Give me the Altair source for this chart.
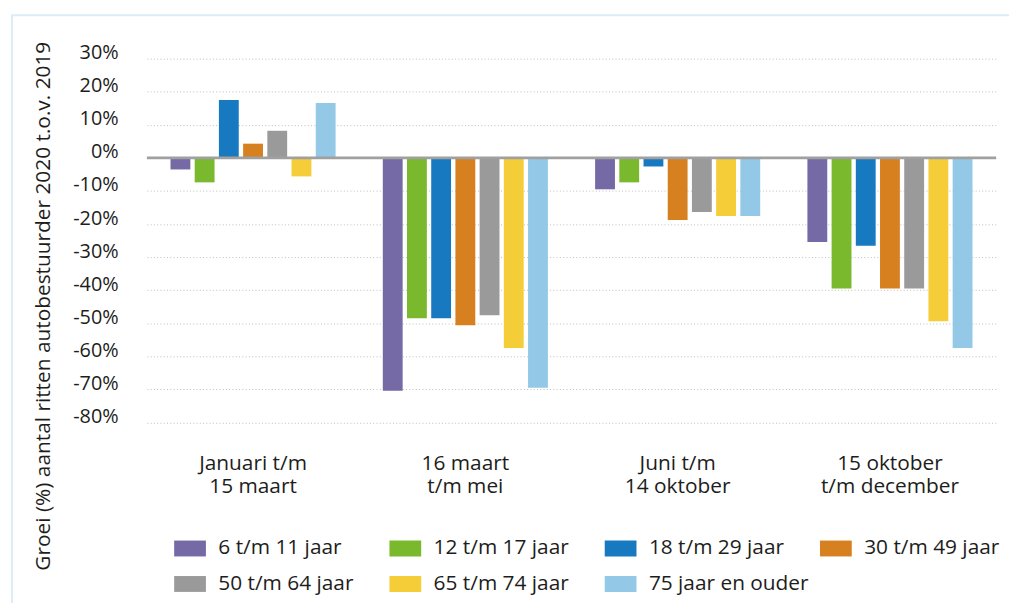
import altair as alt
import pandas as pd

periods = ["Januari t/m|15 maart", "16 maart|t/m mei", "Juni t/m|14 oktober", "15 oktober|t/m december"]
ages = ["6 t/m 11 jaar", "12 t/m 17 jaar", "18 t/m 29 jaar", "30 t/m 49 jaar",
        "50 t/m 64 jaar", "65 t/m 74 jaar", "75 jaar en ouder"]
colors = ["#756AA5", "#7AB82E", "#177AC0", "#D7801F", "#9A9A9A", "#F4CD38", "#93C9E7"]
y_ticks = [30, 20, 10, 0, -10, -20, -30, -40, -50, -60, -70, -80]

# growth (%) per age group, one value per period
g_6_11 = [-3.5, -70.4, -9.5, -25.4]
g_12_17 = [-7.4, -48.5, -7.4, -39.5]
g_18_29 = [17.5, -48.5, -2.6, -26.6]
g_30_49 = [4.3, -50.6, -18.8, -39.5]
g_50_64 = [8.2, -47.6, -16.4, -39.5]
g_65_74 = [-5.6, -57.5, -17.6, -49.4]
g_75 = [16.6, -69.5, -17.6, -57.5]

series = [g_6_11, g_12_17, g_18_29, g_30_49, g_50_64, g_65_74, g_75]
rows = []
for age, vals in zip(ages, series):
    for p, v in zip(periods, vals):
        rows.append({"periode": p, "leeftijd": age, "groei": v})
df = pd.DataFrame(rows)

FONT = "Open Sans"
TXT = "#1d1d1b"

yscale = alt.Scale(domain=[-80, 30], nice=False, zero=True)
yaxis = alt.Axis(title="Groei (%) aantal ritten autobestuurder 2020 t.o.v. 2019",
                 values=y_ticks,
                 labelExpr="datum.value + '%'",
                 ticks=False, domain=False, labelOverlap=False,
                 grid=True, gridColor="#bdbdbd", gridDash=[1, 2.3], gridWidth=1,
                 labelFontSize=20, labelFont=FONT, labelColor=TXT,
                 labelPadding=29, labelOffset=-6,
                 titleFontSize=21, titleFont=FONT, titleColor=TXT,
                 titleFontWeight="normal",
                 titleX=-104, titleY=249, titleBaseline="middle",
                 titleAngle=270, titleAlign="center")

bars = alt.Chart(df).mark_bar().encode(
    x=alt.X("periode:N", sort=periods,
            scale=alt.Scale(paddingInner=0, paddingOuter=0),
            axis=alt.Axis(title=None, labelAngle=0, ticks=False, domain=False,
                          labelExpr="split(datum.label, '|')",
                          labelFontSize=21, labelFont=FONT, labelColor=TXT,
                          labelPadding=30, labelLineHeight=23.5, labelBaseline="top")),
    xOffset=alt.XOffset("leeftijd:N", sort=ages,
                        scale=alt.Scale(paddingInner=0.18, paddingOuter=0.975)),
    y=alt.Y("groei:Q", scale=yscale, axis=yaxis),
    color=alt.Color("leeftijd:N", sort=ages,
                    scale=alt.Scale(domain=ages, range=colors),
                    legend=alt.Legend(title=None, orient="none", legendX=25, legendY=483,
                                      direction="horizontal",
                                      columns=4, gridAlign="all", columnPadding=8,
                                      rowPadding=14, padding=0,
                                      symbolType="M-1,-1H3V1H-1Z", symbolSize=256,
                                      symbolStrokeWidth=0, symbolOpacity=1,
                                      labelFontSize=21, labelFont=FONT, labelColor=TXT,
                                      labelOffset=26, labelLimit=300)),
)

zero = alt.Chart(pd.DataFrame({"y": [0]})).mark_rule(color="#a0a0a0", strokeWidth=3).encode(
    y=alt.Y("y:Q", scale=yscale, axis=yaxis)
)

frame = alt.Chart(pd.DataFrame({"a": [0]})).mark_rect(
    fillOpacity=0, stroke="#dcedf8", strokeWidth=2, clip=False
).encode(
    x=alt.value(-136), x2=alt.value(900), y=alt.value(-43.7), y2=alt.value(600)
)

chart = alt.layer(bars, zero, frame).properties(
    width=856, height=366.7,
    autosize=alt.AutoSizeParams(type="none"),
    padding={"left": 140, "top": 48.7, "right": 13, "bottom": 180},
).configure(font=FONT).configure_view(strokeWidth=0, stroke="transparent")

chart.save("out.html", embed_options={"renderer": "svg", "actions": False})
